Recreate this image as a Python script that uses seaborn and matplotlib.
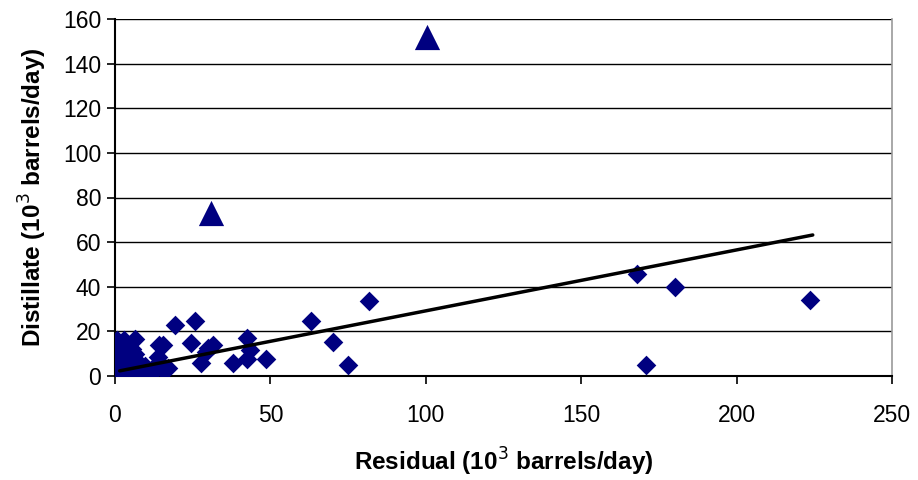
import matplotlib
matplotlib.use("Agg")
import matplotlib.pyplot as plt
import seaborn as sns
import pandas as pd

# Diamonds: residual vs distillate (10^3 barrels/day)
residual = [223.6, 180.2, 168.0, 171.0, 81.7, 63.0, 70.0, 75.0, 48.7, 42.4,
            43.3, 42.4, 38.0, 25.7, 24.5, 27.6, 29.3, 31.5, 30.0, 19.3,
            6.4, 14.2, 15.5, 13.9, 13.9, 17.0,
            0.5, 1.0, 2.0, 3.0, 0.3, 1.5, 4.0, 2.5, 0.8, 5.0, 6.0, 3.5, 1.0,
            7.0, 8.0, 2.0, 0.5, 4.5, 9.0, 10.0, 0.2, 3.0, 6.0, 1.0, 0.3, 2.0,
            5.0, 7.5, 11.0, 12.0, 13.0, 15.0, 16.0, 8.0, 4.0, 5.5, 3.0, 1.2,
            2.2, 0.4, 6.5, 9.5, 0.6, 1.8, 3.8, 2.8, 0.2, 4.8]
distillate = [34.0, 40.0, 45.5, 5.0, 33.6, 24.7, 15.2, 5.0, 7.5, 17.0,
              11.8, 7.4, 5.8, 24.7, 14.8, 5.8, 10.8, 13.7, 12.4, 22.9,
              16.6, 13.9, 13.9, 8.3, 5.0, 3.6,
              15.0, 13.0, 15.0, 12.0, 11.0, 10.0, 11.0, 9.0, 8.0, 9.0, 8.0, 7.0, 6.0,
              6.0, 5.0, 5.0, 4.0, 4.0, 3.0, 2.5, 2.0, 2.0, 2.0, 1.0, 0.5, 0.5,
              1.0, 1.5, 2.0, 3.0, 2.5, 3.0, 3.5, 3.0, 13.0, 12.0, 16.0, 14.0,
              7.0, 6.5, 10.0, 4.5, 16.0, 11.5, 8.5, 3.5, 13.5, 6.5]

# Triangles (outliers)
outlier_residual = [30.9, 100.3]
outlier_distillate = [73.0, 152.0]

# Trend line endpoints
trend_x = [1.5, 224.5]
trend_y = [2.3, 63.2]

x_ticks = [0, 50, 100, 150, 200, 250]
y_ticks = [0, 20, 40, 60, 80, 100, 120, 140, 160]

sns.set_theme(style="white")
plt.rcParams["font.family"] = ["Liberation Sans", "DejaVu Sans"]
plt.rcParams["text.color"] = "black"
plt.rcParams["axes.labelcolor"] = "black"
plt.rcParams["xtick.color"] = "black"
plt.rcParams["ytick.color"] = "black"

fig = plt.figure(figsize=(9.18, 4.8), dpi=100)
ax = fig.add_axes([115 / 918, 104 / 480, 777 / 918, 357 / 480])

navy = "#000080"
df = pd.DataFrame({"x": residual, "y": distillate})
df_out = pd.DataFrame({"x": outlier_residual, "y": outlier_distillate})
df_tr = pd.DataFrame({"x": trend_x, "y": trend_y})

for yv in y_ticks[1:]:
    ax.axhline(yv, color="black", lw=1.0, zorder=0)

sns.scatterplot(data=df, x="x", y="y", marker="D", s=100, color=navy,
                edgecolor=navy, linewidth=0, ax=ax, zorder=3)
sns.scatterplot(data=df_out, x="x", y="y", marker="^", s=330, color=navy,
                edgecolor=navy, linewidth=0, ax=ax, zorder=3)
sns.lineplot(data=df_tr, x="x", y="y", color="black", lw=2.5, ax=ax, zorder=4)

ax.set_xlim(0, 250)
ax.set_ylim(0, 160)
ax.set_xticks(x_ticks)
ax.set_yticks(y_ticks)
ax.tick_params(axis="both", direction="out", length=6, width=1.2,
               color="black", labelcolor="black", labelsize=16.5,
               bottom=True, left=True)
ax.tick_params(axis="x", pad=14)
ax.tick_params(axis="y", pad=4)

for side in ["left", "bottom"]:
    ax.spines[side].set_color("black")
    ax.spines[side].set_linewidth(1.5)
ax.spines["top"].set_visible(False)
ax.spines["right"].set_color("#999999")
ax.spines["right"].set_linewidth(1.2)

ax.set_xlabel("Residual (10$^3$ barrels/day)", fontsize=17.5, fontweight="bold",
              labelpad=14, color="black")
ax.set_ylabel("Distillate (10$^3$ barrels/day)", fontsize=17.5, fontweight="bold",
              labelpad=10, color="black")

fig.savefig("out.png", dpi=100, facecolor="white")
